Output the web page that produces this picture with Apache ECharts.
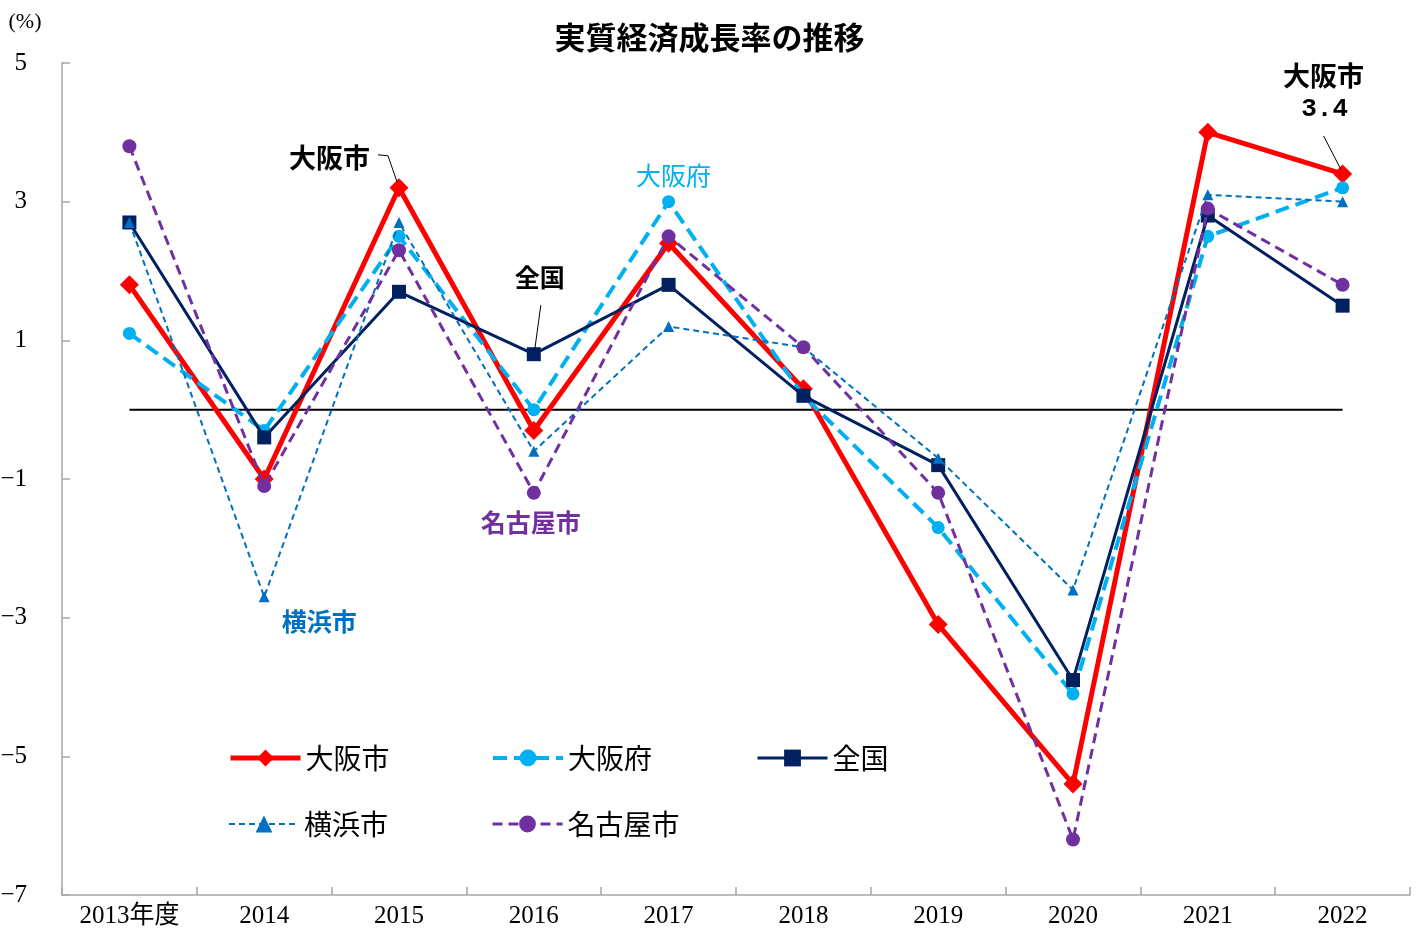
<!DOCTYPE html>
<html>
<head>
<meta charset="utf-8">
<script src="https://cdn.jsdelivr.net/npm/echarts@6/dist/echarts.min.js"></script>
<style>
html,body{margin:0;padding:0;background:#fff;}
#main{width:1419px;height:933px;}
</style>
</head>
<body>
<div id="main"></div>
<script>
const categories = ['2013年度','2014','2015','2016','2017','2018','2019','2020','2021','2022'];
const osakaCity   = [1.8, -1.0, 3.2, -0.3, 2.4, 0.3, -3.1, -5.4, 4.0, 3.4];
const osakaPref   = [1.1, -0.3, 2.5, 0.0, 3.0, 0.2, -1.7, -4.1, 2.5, 3.2];
const national    = [2.7, -0.4, 1.7, 0.8, 1.8, 0.2, -0.8, -3.9, 2.8, 1.5];
const yokohama    = [2.7, -2.7, 2.7, -0.6, 1.2, 0.9, -0.7, -2.6, 3.1, 3.0];
const nagoya      = [3.8, -1.1, 2.3, -1.2, 2.5, 0.9, -1.2, -6.2, 2.9, 1.8];
const zeroLine    = [0, 0, 0, 0, 0, 0, 0, 0, 0, 0];
const seriesNames = ['大阪市','大阪府','全国','横浜市','名古屋市'];
const yTicks = {min: -7, max: 5, interval: 2};

const JP = '"Noto Sans CJK JP", "Noto Sans", sans-serif';
const NUM = '"Liberation Serif", "Noto Sans CJK JP", serif';

const chart = echarts.init(document.getElementById('main'));

function legendAt(name, left, top) {
  return {
    data: [name], left: left, top: top, orient: 'horizontal', padding: 0,
    itemWidth: 70, itemHeight: 21, itemGap: 5,
    lineStyle: {width: 'inherit'},
    textStyle: {fontFamily: JP, fontSize: 28, color: '#000', padding: [0,0,0,0]},
    selectedMode: false
  };
}

const option = {
  animation: false,
  backgroundColor: '#fff',
  title: {
    text: '実質経済成長率の推移', left: 'center', top: 17,
    textStyle: {fontFamily: JP, fontSize: 31, fontWeight: 'bold', color: '#000'}
  },
  grid: {left: 62, right: 9, top: 63, bottom: 38, containLabel: false, outerBoundsMode: 'none'},
  legend: [
    legendAt(seriesNames[0], 228, 744),
    legendAt(seriesNames[1], 491, 744),
    legendAt(seriesNames[2], 756, 744),
    legendAt(seriesNames[3], 228, 810),
    legendAt(seriesNames[4], 491, 810)
  ],
  xAxis: {
    type: 'category', data: categories, boundaryGap: true,
    axisLine: {onZero: false, lineStyle: {color: '#a6a6a6', width: 1.5}},
    axisTick: {show: true, inside: true, length: 8, interval: 0, lineStyle: {color: '#a6a6a6', width: 1.5}},
    axisLabel: {fontFamily: NUM, fontSize: 25, color: '#000', margin: 9, interval: 0}
  },
  yAxis: {
    type: 'value', min: yTicks.min, max: yTicks.max, interval: yTicks.interval,
    name: '(%)', nameLocation: 'end', nameGap: 0,
    nameTextStyle: {fontFamily: NUM, fontSize: 22, color: '#000', align: 'center', padding: [0, 0, 30, -74]},
    axisLine: {show: true, lineStyle: {color: '#a6a6a6', width: 1.5}},
    axisTick: {show: true, inside: true, length: 8, lineStyle: {color: '#a6a6a6', width: 1.5}},
    splitLine: {show: false},
    axisLabel: {fontFamily: NUM, fontSize: 25, color: '#000', margin: 35, align: 'right',
      formatter: v => String(v).replace('-', '−')}
  },
  series: [
    {name: 'zero', type: 'line', data: zeroLine, symbol: 'none', silent: true,
     lineStyle: {color: '#000', width: 2}, z: 1},
    {name: seriesNames[0], type: 'line', data: osakaCity, symbol: 'diamond', symbolSize: 19,
     itemStyle: {color: '#ff0000'}, lineStyle: {color: '#ff0000', width: 5}, z: 2},
    {name: seriesNames[1], type: 'line', data: osakaPref, symbol: 'circle', symbolSize: 13,
     itemStyle: {color: '#00b0f0'}, lineStyle: {color: '#00b0f0', width: 4, type: [14, 7]}, z: 3},
    {name: seriesNames[2], type: 'line', data: national, symbol: 'rect', symbolSize: 14,
     itemStyle: {color: '#002060'}, lineStyle: {color: '#002060', width: 3}, z: 4},
    {name: seriesNames[3], type: 'line', data: yokohama, symbol: 'triangle', symbolSize: 11,
     itemStyle: {color: '#0070c0'}, lineStyle: {color: '#0070c0', width: 2, type: [6, 4]}, z: 5},
    {name: seriesNames[4], type: 'line', data: nagoya, symbol: 'circle', symbolSize: 14,
     itemStyle: {color: '#7030a0'}, lineStyle: {color: '#7030a0', width: 3, type: [10, 6]}, z: 6}
  ]
};
chart.setOption(option);

function px(si, ci, v) { return chart.convertToPixel({seriesIndex: si}, [ci, v]); }
const pA = px(1, 2, osakaCity[2]);
const pN = px(3, 3, national[3]);
const pP = px(2, 4, osakaPref[4]);
const pG = px(5, 3, nagoya[3]);
const pY = px(4, 1, yokohama[1]);
const pZ = px(1, 9, osakaCity[9]);

function txt(x, y, s, color, bold, size, font, align) {
  return {type: 'text', x: x, y: y, z: 100,
    style: {text: s, fill: color, font: (bold ? 'bold ' : '') + size + 'px ' + (font || JP),
      textAlign: align || 'center', textVerticalAlign: 'middle'}};
}
function line(points) {
  return {type: 'polyline', z: 100, shape: {points: points},
    style: {stroke: '#000', lineWidth: 1, fill: null}};
}

chart.setOption({graphic: [
  txt(pA[0] - 29, pA[1] - 30, '大阪市', '#000', true, 27, JP, 'right'),
  line([[pA[0] - 21, pA[1] - 33], [pA[0] - 11, pA[1] - 32], [pA[0] - 2, pA[1] - 6]]),
  txt(pN[0] + 6, pN[1] - 77, '全国', '#000', true, 25),
  line([[pN[0] + 7, pN[1] - 49], [pN[0] + 1, pN[1] - 5]]),
  txt(pP[0] + 5, pP[1] - 26, '大阪府', '#00b0f0', false, 25),
  txt(pG[0] - 3, pG[1] + 30, '名古屋市', '#7030a0', true, 25),
  txt(pY[0] + 55, pY[1] + 25, '横浜市', '#0070c0', true, 25),
  txt(pZ[0] - 19, pZ[1] - 98, '大阪市', '#000', true, 27),
  txt(pZ[0] - 18, pZ[1] - 64, '3.4', '#000', true, 26, '"Liberation Mono", monospace'),
  line([[pZ[0] - 19, pZ[1] - 38], [pZ[0] - 2, pZ[1] - 5]])
]});
</script>
</body>
</html>
